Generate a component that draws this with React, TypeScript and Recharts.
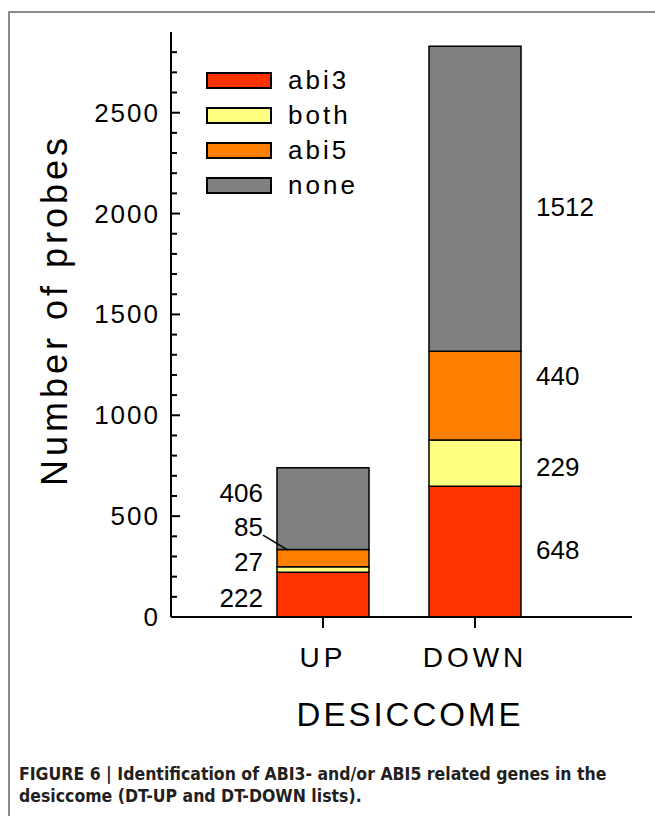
import React from 'react';
import {
  BarChart,
  Bar,
  XAxis,
  YAxis,
  Legend,
  LabelList,
} from 'recharts';

// desiccome lists and the probe counts per class
const categories = ['UP', 'DOWN'];
const abi3 = [222, 648];
const both = [27, 229];
const abi5 = [85, 440];
const none = [406, 1512];
const seriesNames = ['abi3', 'both', 'abi5', 'none'];

const yMajorTicks = [0, 500, 1000, 1500, 2000, 2500];
const yAllTicks = [
  0, 100, 200, 300, 400, 500, 600, 700, 800, 900, 1000, 1100, 1200, 1300, 1400,
  1500, 1600, 1700, 1800, 1900, 2000, 2100, 2200, 2300, 2400, 2500, 2600, 2700,
  2800,
];

const data = categories.map((c, i) => ({
  name: c,
  abi3: abi3[i],
  both: both[i],
  abi5: abi5[i],
  none: none[i],
}));

const colors: any = {
  abi3: '#ff3300',
  both: '#ffff80',
  abi5: '#ff8000',
  none: '#808080',
};

const FONT = '"Liberation Sans", Arial, Helvetica, sans-serif';

// nudges so the printed numbers sit where the figure puts them
const labelShift: any = {
  abi3: [3, -2],
  both: [-7.5, 4],
  abi5: [-31, -20],
  none: [-16, 8],
};

function YTick(props: any) {
  const { x, y, payload } = props;
  const major = yMajorTicks.includes(payload.value);
  return (
    <g>
      <line x1={x} x2={x + (major ? 9 : 6)} y1={y} y2={y} stroke="#000" strokeWidth={2} />
      {major && (
        <text
          x={x - 11}
          y={y}
          textAnchor="end"
          dominantBaseline="central"
          fontSize={26}
          letterSpacing={2}
          fontFamily={FONT}
          fill="#000"
        >
          {payload.value}
        </text>
      )}
    </g>
  );
}

function makeLabel(key: string) {
  return (props: any) => {
    const { x, y, width, height, value, index } = props;
    const cy = y + height / 2 + labelShift[key][index];
    const left = index === 0;
    const tx = left ? x - 14 : x + width + 15;
    return (
      <g>
        <text
          x={tx}
          y={cy}
          textAnchor={left ? 'end' : 'start'}
          dominantBaseline="central"
          fontSize={26}
          fontFamily={FONT}
          fill="#000"
        >
          {value}
        </text>
        {left && key === 'abi5' && (
          <line x1={x - 14} y1={cy + 8} x2={x + 11} y2={cy + 23} stroke="#000" strokeWidth={1.5} />
        )}
      </g>
    );
  };
}

function LegendBox() {
  return (
    <div style={{ fontFamily: FONT }}>
      {seriesNames.map((s) => (
        <div key={s} style={{ display: 'flex', alignItems: 'center', height: 35 }}>
          <div
            style={{
              width: 62,
              height: 13,
              background: colors[s],
              border: '2px solid #000',
              marginRight: 16,
            }}
          />
          <span style={{ fontSize: 26, letterSpacing: 3, color: '#000' }}>{s}</span>
        </div>
      ))}
    </div>
  );
}

const barProps = {
  stackId: 'a',
  stroke: '#000',
  strokeWidth: 1.5,
  barSize: 92,
  isAnimationActive: false,
};

export default function App() {
  return (
    <div
      style={{
        position: 'absolute',
        left: 0,
        top: 0,
        width: 655,
        height: 816,
        overflow: 'hidden',
        background: '#fff',
        fontFamily: FONT,
      }}
    >
      <div
        style={{
          position: 'absolute',
          left: 8,
          top: 11,
          width: 700,
          height: 900,
          borderLeft: '2px solid #8a8a8a',
          borderTop: '2px solid #8a8a8a',
        }}
      />
      <div style={{ position: 'absolute', left: 0, top: 0 }}>
        <BarChart
          width={655}
          height={700}
          data={data}
          margin={{ top: 32, right: 23, left: 0, bottom: 13 }}
        >
          <XAxis
            dataKey="name"
            height={70}
            padding={{ left: 76, right: 81 }}
            axisLine={{ stroke: '#000', strokeWidth: 2 }}
            tickLine={{ stroke: '#000', strokeWidth: 2 }}
            tickSize={11}
            tickMargin={19}
            tick={{ fontSize: 28, fill: '#000', letterSpacing: 4, fontFamily: FONT }}
          />
          <XAxis
            xAxisId="top"
            orientation="top"
            dataKey="name"
            height={0}
            tick={false}
            tickLine={false}
            axisLine={{ stroke: '#000', strokeWidth: 2 }}
          />
          <YAxis
            width={171}
            domain={[0, 2900]}
            ticks={yAllTicks}
            interval={0}
            tickSize={0}
            tickMargin={0}
            tickLine={false}
            tick={<YTick />}
            axisLine={{ stroke: '#000', strokeWidth: 2 }}
          />
          <YAxis
            yAxisId="right"
            orientation="right"
            width={0}
            domain={[0, 2900]}
            tick={false}
            tickLine={false}
            axisLine={{ stroke: '#000', strokeWidth: 2 }}
          />
          <Legend
            layout="vertical"
            align="center"
            verticalAlign="middle"
            content={<LegendBox />}
            wrapperStyle={{ left: 206, top: 63, width: 200, height: 145 }}
          />
          {seriesNames.map((s) => (
            <Bar key={s} dataKey={s} name={s} fill={colors[s]} {...barProps}>
              <LabelList dataKey={s} content={makeLabel(s)} />
            </Bar>
          ))}
        </BarChart>
      </div>
      <div
        style={{
          position: 'absolute',
          left: 55,
          top: 310,
          transform: 'translate(-50%, -50%) rotate(-90deg)',
          whiteSpace: 'nowrap',
          fontSize: 36,
          letterSpacing: 4,
          color: '#000',
          lineHeight: 1,
        }}
      >
        Number of probes
      </div>
      <div
        style={{
          position: 'absolute',
          left: 410,
          top: 714,
          transform: 'translate(-50%, -50%)',
          whiteSpace: 'nowrap',
          fontSize: 33,
          letterSpacing: 3,
          color: '#000',
          lineHeight: 1,
        }}
      >
        DESICCOME
      </div>
      <div
        style={{
          position: 'absolute',
          left: 19,
          top: 763,
          width: 630,
          fontFamily: '"Liberation Sans Narrow", "DejaVu Sans Condensed", Arial, sans-serif',
          fontWeight: 'bold',
          fontSize: 17.5,
          lineHeight: '22px',
          color: '#231f20',
        }}
      >
        FIGURE 6 | Identification of ABI3- and/or ABI5 related genes in the
        <br />
        desiccome (DT-UP and DT-DOWN lists).
      </div>
    </div>
  );
}
